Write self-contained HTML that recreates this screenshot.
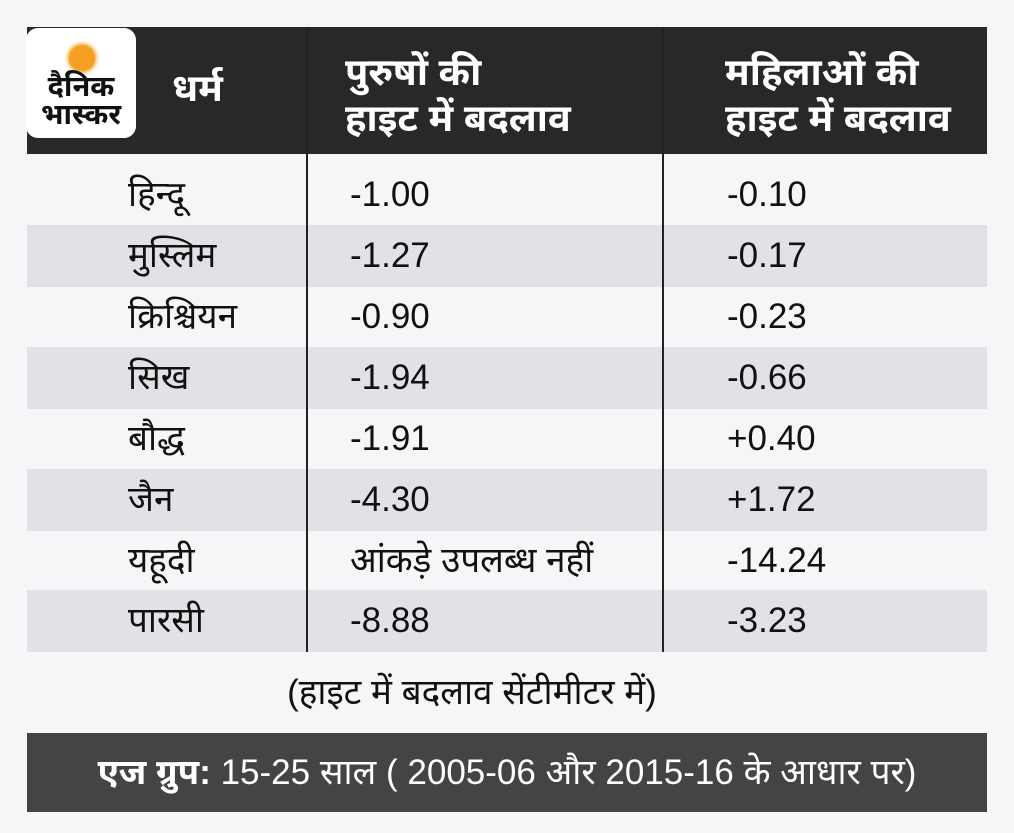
<!DOCTYPE html>
<html><head><meta charset="utf-8"><style>
body{margin:0;width:1014px;height:833px;background:#f5f6f8;position:relative;overflow:hidden;font-family:"Liberation Sans","Noto Sans Devanagari","Lohit Devanagari",sans-serif;color:#111}
.a{position:absolute;white-space:nowrap}
.hd{left:27px;top:27px;width:960px;height:127px;background:#282828}
.logo{left:26px;top:28px;width:110px;height:110px;background:#fff;border-radius:12px}
.sun{left:69px;top:45px;width:26px;height:26px;border-radius:50%;background:#f5a022;box-shadow:0 0 3px 2px #f8b54a}
.lt{left:26px;width:110px;text-align:center;font-weight:bold;font-size:29px;line-height:28px;color:#111}
.ht{color:#fff;font-weight:bold;font-size:38px;line-height:46px}
.g{left:27px;width:960px;height:62px;background:#e1e2e6}
.c{font-size:35px;line-height:62px}
.v{width:2px;background:#222;top:27px;height:625px}
.bar{left:27px;top:733px;width:960px;height:79px;background:#444;color:#fff;font-size:35px;line-height:79px;text-align:center}
</style></head><body>
<div class="a hd"></div>
<div class="a logo"></div>
<div class="a sun"></div>
<div class="a lt" style="top:73px">दैनिक</div>
<div class="a lt" style="top:101px">भास्कर</div>
<div class="a ht" style="left:172px;top:66px">धर्म</div>
<div class="a ht" style="left:345px;top:50px">पुरुषों की<br>हाइट में बदलाव</div>
<div class="a ht" style="left:725px;top:50px">महिलाओं की<br>हाइट में बदलाव</div>
<div class="a g" style="top:225px"></div>
<div class="a g" style="top:347px"></div>
<div class="a g" style="top:469px"></div>
<div class="a g" style="top:590px"></div>
<div class="a v" style="left:306px"></div>
<div class="a v" style="left:662px"></div>
<div class="a c" style="left:128px;top:164px">हिन्दू</div><div class="a c" style="left:350px;top:164px">-1.00</div><div class="a c" style="left:727px;top:164px">-0.10</div>
<div class="a c" style="left:128px;top:225px">मुस्लिम</div><div class="a c" style="left:350px;top:225px">-1.27</div><div class="a c" style="left:727px;top:225px">-0.17</div>
<div class="a c" style="left:128px;top:286px">क्रिश्चियन</div><div class="a c" style="left:350px;top:286px">-0.90</div><div class="a c" style="left:727px;top:286px">-0.23</div>
<div class="a c" style="left:128px;top:347px">सिख</div><div class="a c" style="left:350px;top:347px">-1.94</div><div class="a c" style="left:727px;top:347px">-0.66</div>
<div class="a c" style="left:128px;top:408px">बौद्ध</div><div class="a c" style="left:350px;top:408px">-1.91</div><div class="a c" style="left:727px;top:408px">+0.40</div>
<div class="a c" style="left:128px;top:469px">जैन</div><div class="a c" style="left:350px;top:469px">-4.30</div><div class="a c" style="left:727px;top:469px">+1.72</div>
<div class="a c" style="left:128px;top:530px">यहूदी</div><div class="a c" style="left:350px;top:530px">आंकड़े उपलब्ध नहीं</div><div class="a c" style="left:727px;top:530px">-14.24</div>
<div class="a c" style="left:128px;top:590px">पारसी</div><div class="a c" style="left:350px;top:590px">-8.88</div><div class="a c" style="left:727px;top:590px">-3.23</div>
<div class="a c" style="left:0;width:944px;text-align:center;top:662px">(हाइट में बदलाव सेंटीमीटर में)</div>
<div class="a bar"><b>एज ग्रुप:</b> 15-25 साल ( 2005-06 और 2015-16 के आधार पर)</div>
</body></html>
